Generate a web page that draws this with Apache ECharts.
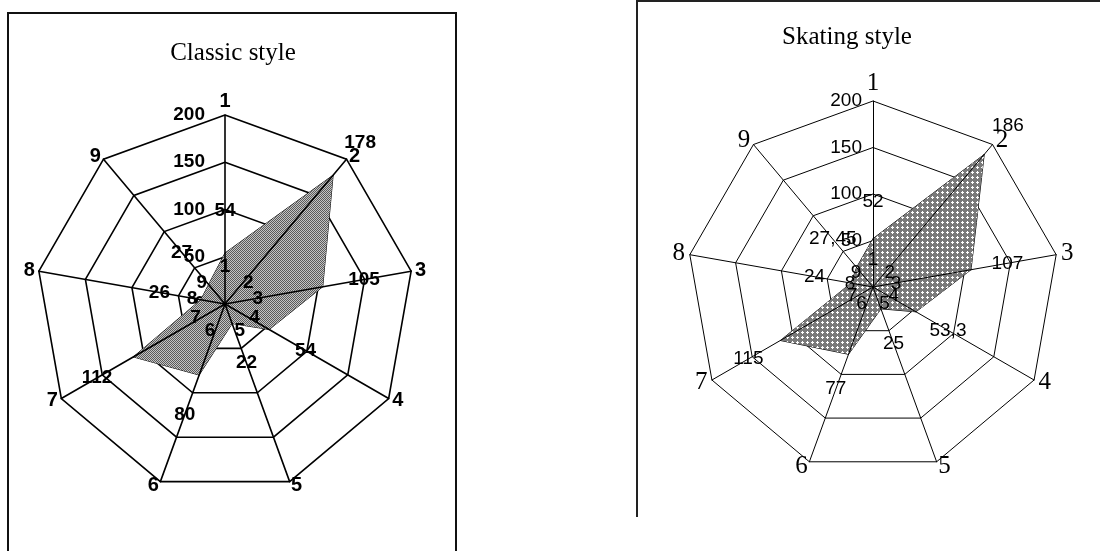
<!DOCTYPE html>
<html>
<head>
<meta charset="utf-8">
<script src="https://cdn.jsdelivr.net/npm/echarts@6/dist/echarts.min.js"></script>
<style>
html, body { margin: 0; padding: 0; background: #fff; }
#chart { width: 1100px; height: 551px; }
</style>
</head>
<body>
<div id="chart"></div>
<script>
// axes 1..9, same for both charts
var axisNames = ['1', '2', '3', '4', '5', '6', '7', '8', '9'];
// values per axis 1..9
var classicValues = [54, 178, 105, 54, 22, 80, 112, 26, 27];
var skatingValues = [52, 186, 107, 53.3, 25, 77, 115, 24, 27.45];
var scaleMax = 200;
var titles = ['Classic style', 'Skating style'];

// echarts radar goes counter-clockwise, the picture goes clockwise
var order = [0, 8, 7, 6, 5, 4, 3, 2, 1];

var CLASSIC_C = [225, 304], CLASSIC_R = 189;
var SKATE_C = [873, 287], SKATE_R = 186;

function pattern(size, bg, fg, dots) {
    var c = document.createElement('canvas');
    c.width = c.height = size;
    var g = c.getContext('2d');
    g.fillStyle = bg;
    g.fillRect(0, 0, size, size);
    g.fillStyle = fg;
    dots.forEach(function (p) { g.fillRect(p[0], p[1], 1, 1); });
    return c;
}
var classicFill = pattern(2, '#c4c4c4', '#5a5a5a', [[0, 0], [1, 1]]);
var skateFill = pattern(5, '#7a7a7a', '#ffffff', [[2, 1], [1, 2], [2, 2], [3, 2], [2, 3]]);

function indicators(withLabel) {
    return order.map(function (i, k) {
        var ind = { name: axisNames[i], min: 0, max: scaleMax };
        if (withLabel && k === 0) ind.axisLabel = { show: true };
        return ind;
    });
}

function fmt(p) {
    var v = Array.isArray(p.value) ? p.value[p.dimensionIndex] : p.value;
    return String(v).replace('.', ',');
}

// push each value label outward from the radar centre
function pushOut(center, dist) {
    return function (params) {
        var r = params.rect;
        var dx = r.x + r.width / 2 - center[0];
        var dy = r.y + r.height / 2 - center[1];
        var len = Math.sqrt(dx * dx + dy * dy) || 1;
        return { dx: dx / len * dist, dy: dy / len * dist };
    };
}

var hidden = { show: false };

var chart = echarts.init(document.getElementById('chart'));
chart.setOption({
    animation: false,
    title: [{
        text: titles[0], left: 228, top: 36, textAlign: 'center',
        textStyle: { fontFamily: 'Liberation Serif', fontWeight: 'normal', fontSize: 25, color: '#000' }
    }, {
        text: titles[1], left: 842, top: 20, textAlign: 'center',
        textStyle: { fontFamily: 'Liberation Serif', fontWeight: 'normal', fontSize: 25, color: '#000' }
    }],
    graphic: [{
        type: 'polyline', shape: { points: [[8, 560], [8, 13], [456, 13], [456, 560]] },
        style: { stroke: '#111', lineWidth: 2, fill: null }
    }, {
        type: 'polyline', shape: { points: [[637, 517], [637, 1], [1110, 1]] },
        style: { stroke: '#222', lineWidth: 2, fill: null }
    }],
    radar: [
        // 0: classic grid, names, tick labels
        {
            center: CLASSIC_C, radius: CLASSIC_R, startAngle: 90, splitNumber: 4, shape: 'polygon',
            indicator: indicators(true),
            axisName: { color: '#000', fontFamily: 'Liberation Sans', fontWeight: 'bold', fontSize: 20 },
            nameGap: 4,
            axisLine: hidden, axisTick: hidden,
            splitLine: { lineStyle: { color: '#000', width: 1.6 } },
            splitArea: hidden,
            axisLabel: { show: false, color: '#000', fontFamily: 'Liberation Sans', fontWeight: 'bold', fontSize: 19, margin: 20 }
        },
        // 1: classic spokes, drawn over the fill
        {
            center: CLASSIC_C, radius: CLASSIC_R, startAngle: 90, splitNumber: 4, shape: 'polygon', z: 3,
            indicator: indicators(false),
            axisName: hidden,
            axisLine: { lineStyle: { color: '#000', width: 1.6 } },
            axisTick: hidden, splitLine: hidden, splitArea: hidden, axisLabel: hidden
        },
        // 2: classic inner axis numbers
        {
            center: CLASSIC_C, radius: 26, startAngle: 90, shape: 'polygon', z: 4,
            indicator: indicators(false),
            axisName: { color: '#000', fontFamily: 'Liberation Sans', fontWeight: 'bold', fontSize: 19 },
            nameGap: 2,
            axisLine: hidden, axisTick: hidden, splitLine: hidden, splitArea: hidden, axisLabel: hidden
        },
        // 3: skating grid, names, tick labels
        {
            center: SKATE_C, radius: SKATE_R, startAngle: 90, splitNumber: 4, shape: 'polygon',
            indicator: indicators(true),
            axisName: { color: '#000', fontFamily: 'Liberation Serif', fontSize: 25 },
            nameGap: 5,
            axisLine: hidden, axisTick: hidden,
            splitLine: { lineStyle: { color: '#000', width: 1 } },
            splitArea: hidden,
            axisLabel: { show: false, color: '#000', fontFamily: 'Liberation Sans', fontSize: 19, margin: 11 }
        },
        // 4: skating spokes
        {
            center: SKATE_C, radius: SKATE_R, startAngle: 90, splitNumber: 4, shape: 'polygon', z: 3,
            indicator: indicators(false),
            axisName: hidden,
            axisLine: { lineStyle: { color: '#000', width: 1 } },
            axisTick: hidden, splitLine: hidden, splitArea: hidden, axisLabel: hidden
        },
        // 5: skating inner axis numbers
        {
            center: SKATE_C, radius: 16, startAngle: 90, shape: 'polygon', z: 4,
            indicator: indicators(false),
            axisName: { color: '#000', fontFamily: 'Liberation Sans', fontSize: 19 },
            nameGap: 2,
            axisLine: hidden, axisTick: hidden, splitLine: hidden, splitArea: hidden, axisLabel: hidden
        }
    ],
    series: [{
        type: 'radar', radarIndex: 0, z: 2,
        symbol: 'circle', symbolSize: 1,
        itemStyle: { color: '#000' },
        lineStyle: { color: '#000', width: 1 },
        areaStyle: { color: { image: classicFill, repeat: 'repeat' }, opacity: 1 },
        label: {
            show: true, position: 'inside', formatter: fmt, color: '#000',
            fontFamily: 'Liberation Sans', fontWeight: 'bold', fontSize: 19
        },
        labelLayout: pushOut(CLASSIC_C, 42),
        data: [{ name: titles[0], value: order.map(function (i) { return classicValues[i]; }) }]
    }, {
        type: 'radar', radarIndex: 3, z: 2,
        symbol: 'circle', symbolSize: 1,
        itemStyle: { color: '#000' },
        lineStyle: { color: '#000', width: 1 },
        areaStyle: { color: { image: skateFill, repeat: 'repeat' }, opacity: 1 },
        label: {
            show: true, position: 'inside', formatter: fmt, color: '#000',
            fontFamily: 'Liberation Sans', fontSize: 19
        },
        labelLayout: pushOut(SKATE_C, 37),
        data: [{ name: titles[1], value: order.map(function (i) { return skatingValues[i]; }) }]
    }]
});
</script>
</body>
</html>
